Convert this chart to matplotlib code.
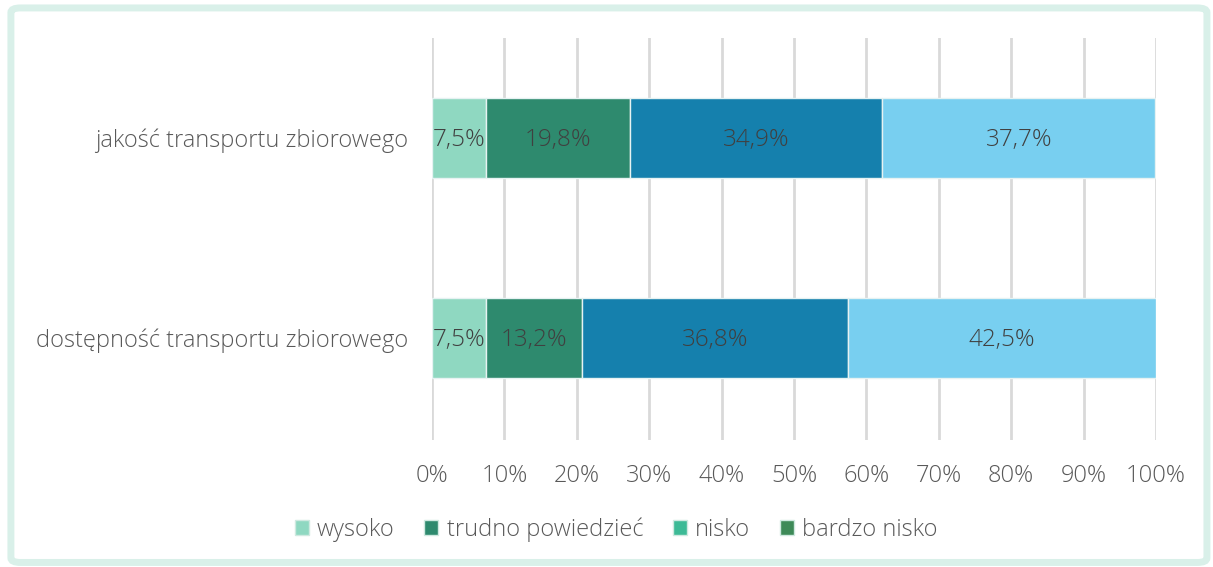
import matplotlib.pyplot as plt
from matplotlib.patches import Patch, FancyBboxPatch

plt.rcParams['font.family'] = ['Open Sans', 'DejaVu Sans']
plt.rcParams['font.weight'] = 'light'

categories = ['dostępność transportu zbiorowego', 'jakość transportu zbiorowego']
series = ['wysoko', 'trudno powiedzieć', 'nisko', 'bardzo nisko']
values = {
    'wysoko': [7.5, 7.5],
    'trudno powiedzieć': [13.2, 19.8],
    'nisko': [36.8, 34.9],
    'bardzo nisko': [42.5, 37.7],
}
bar_colors = ['#8fd8c1', '#2e8a6e', '#1580ad', '#78cff0']
legend_colors = ['#8fd8c1', '#2e8a6e', '#3dba96', '#3d8a58']

fig = plt.figure(figsize=(12.13, 5.67), dpi=100)
# rounded light frame around the chart
frame = FancyBboxPatch((0.009, 0.008), 0.986, 0.978, boxstyle='round,pad=0,rounding_size=0.008',
                       transform=fig.transFigure, facecolor='none', edgecolor='#d9f0e9',
                       linewidth=5, zorder=-1)
fig.patches.append(frame)

ax = fig.add_axes([0.3561, 0.224, 0.5969, 0.709])
ax.set_facecolor('none')

y = range(len(categories))
left = [0, 0]
for s, c in zip(series, bar_colors):
    vals = values[s]
    ax.barh(y, vals, left=left, height=0.4, color=c, edgecolor='#e6f2f2', linewidth=1, zorder=3)
    for i, v in enumerate(vals):
        ax.text(left[i] + v / 2, i - 0.01, f'{v:.1f}%'.replace('.', ','), ha='center', va='center',
                fontsize=17.5, color='#404040', zorder=4)
    left = [a + b for a, b in zip(left, vals)]

ax.set_xlim(0, 100)
ax.set_ylim(-0.51, 1.5)
ax.set_xticks(range(0, 101, 10))
ax.set_xticklabels([f'{t}%' for t in range(0, 101, 10)])
ax.set_yticks(list(y))
ax.set_yticklabels(categories)
ax.grid(axis='x', color='#d9d9d9', linewidth=2, zorder=0)
for sp in ax.spines.values():
    sp.set_visible(False)
ax.tick_params(axis='both', length=0, labelsize=17, labelcolor='#595959')
ax.tick_params(axis='y', pad=17)
ax.tick_params(axis='x', pad=17)

handles = [Patch(facecolor=c, edgecolor='#cfe9e0', label=s) for s, c in zip(series, legend_colors)]
fig.legend(handles=handles, loc='center', bbox_to_anchor=(0.508, 0.066), ncol=4, frameon=False,
           fontsize=17, labelcolor='#595959', handlelength=0.6, handleheight=0.6,
           handletextpad=0.35, columnspacing=1.25)

fig.savefig('out.png', dpi=100)
